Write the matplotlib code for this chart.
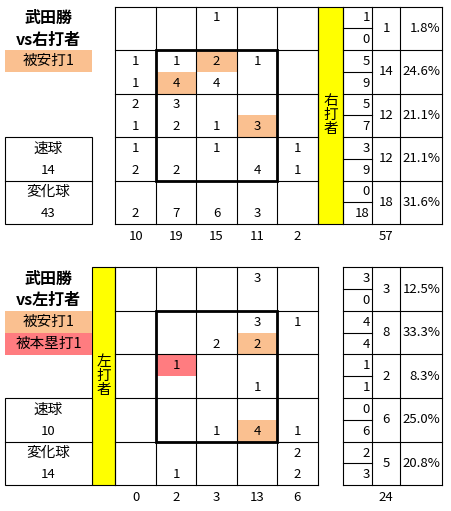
import matplotlib
matplotlib.use("Agg")
import matplotlib.pyplot as plt
from matplotlib.patches import Rectangle

plt.rcParams['font.family'] = ['Noto Sans CJK JP', 'DejaVu Sans']

# ---------------- data ----------------
pitcher = "武田勝"
titles = ["vs右打者", "vs左打者"]
side_labels = ["右打者", "左打者"]

# top / bottom counts in each of the 5x5 zone cells (None = empty)
R_top = [[None, None, 1, None, None],
         [1, 1, 2, 1, None],
         [2, 3, None, None, None],
         [1, None, 1, None, 1],
         [None, None, None, None, None]]
R_bot = [[None, None, None, None, None],
         [1, 4, 4, None, None],
         [1, 2, 1, 3, None],
         [2, 2, None, 4, 1],
         [2, 7, 6, 3, None]]
L_top = [[None, None, None, 3, None],
         [None, None, None, 3, 1],
         [None, 1, None, None, None],
         [None, None, None, None, None],
         [None, None, None, None, 2]]
L_bot = [[None, None, None, None, None],
         [None, None, 2, 2, None],
         [None, None, None, 1, None],
         [None, None, 1, 4, 1],
         [None, 1, None, None, 2]]

# hits: (row, col, half 0=top 1=bottom, kind)
R_hits = [(1, 2, 0, "hit"), (1, 1, 1, "hit"), (2, 3, 1, "hit")]
L_hits = [(1, 3, 1, "hit"), (2, 1, 0, "hr"), (3, 3, 1, "hit")]

R_col_tot = [10, 19, 15, 11, 2]
L_col_tot = [0, 2, 3, 13, 6]

R_row_a = [1, 5, 5, 3, 0]
R_row_b = [0, 9, 7, 9, 18]
R_row_tot = [1, 14, 12, 12, 18]
R_row_pct = ["1.8%", "24.6%", "21.1%", "21.1%", "31.6%"]
R_total = 57

L_row_a = [3, 4, 1, 0, 2]
L_row_b = [0, 4, 1, 6, 3]
L_row_tot = [3, 8, 2, 6, 5]
L_row_pct = ["12.5%", "33.3%", "8.3%", "25.0%", "20.8%"]
L_total = 24

R_badges = [("被安打1", "hit")]
L_badges = [("被安打1", "hit"), ("被本塁打1", "hr")]

pitch_labels = ["速球", "変化球"]
R_pitch = [14, 43]
L_pitch = [10, 14]

# ---------------- style ----------------
COL = {"hit": "#FAC090", "hr": "#FF7C80"}
YELLOW = "#FFFF00"
FS = 9.5

W, H = 451, 511
fig = plt.figure(figsize=(W / 100, H / 100), dpi=100)
ax = fig.add_axes([0, 0, 1, 1])
ax.set_xlim(0, W)
ax.set_ylim(H, 0)
ax.axis("off")

GX0, CW = 115.4, 40.45
TX = [343.3, 371.7, 400.3, 441.7]


def line(x0, y0, x1, y1, lw=0.8):
    ax.plot([x0, x1], [y0, y1], color="black", lw=lw, solid_capstyle="projecting")


def panel(y0, rh, top, bot, hits, coltot, ra, rb, rt, rp, total, side, title,
          badges, pitch, yellow_x):
    gx1 = GX0 + 5 * CW
    gy1 = y0 + 5 * rh
    # highlights
    for r, c, h, kind in hits:
        ax.add_patch(Rectangle((GX0 + c * CW, y0 + r * rh + h * rh / 2), CW, rh / 2,
                               facecolor=COL[kind], edgecolor="none", zorder=1))
    # yellow band
    ax.add_patch(Rectangle((yellow_x[0], y0), yellow_x[1] - yellow_x[0], 5 * rh,
                           facecolor=YELLOW, edgecolor="black", lw=0.8, zorder=1))
    ax.text((yellow_x[0] + yellow_x[1]) / 2, y0 + 2.5 * rh, "\n".join(side),
            ha="center", va="center", fontsize=FS + 1, linespacing=1.0, zorder=3)
    # grid
    for i in range(6):
        line(GX0 + i * CW, y0, GX0 + i * CW, gy1)
        line(GX0, y0 + i * rh, gx1, y0 + i * rh)
    # strike zone
    ax.add_patch(Rectangle((GX0 + CW, y0 + rh), 3 * CW, 3 * rh, facecolor="none",
                           edgecolor="black", lw=2.0, zorder=4))
    # numbers
    for r in range(5):
        for c in range(5):
            cx = GX0 + (c + 0.5) * CW
            if top[r][c] is not None:
                ax.text(cx, y0 + r * rh + rh * 0.26, str(top[r][c]), ha="center",
                        va="center", fontsize=FS, zorder=3)
            if bot[r][c] is not None:
                ax.text(cx, y0 + r * rh + rh * 0.76, str(bot[r][c]), ha="center",
                        va="center", fontsize=FS, zorder=3)
    for c, v in enumerate(coltot):
        ax.text(GX0 + (c + 0.5) * CW, gy1 + 12.5, str(v), ha="center", va="center",
                fontsize=FS)
    # right table
    for x in TX:
        line(x, y0, x, gy1)
    for r in range(6):
        line(TX[0], y0 + r * rh, TX[3], y0 + r * rh)
    for r in range(5):
        ym = y0 + (r + 0.5) * rh
        line(TX[0], ym, TX[1], ym)
        ax.text(TX[1] - 2, y0 + r * rh + rh * 0.26, str(ra[r]), ha="right",
                va="center", fontsize=FS)
        ax.text(TX[1] - 2, y0 + r * rh + rh * 0.76, str(rb[r]), ha="right",
                va="center", fontsize=FS)
        ax.text((TX[1] + TX[2]) / 2, ym, str(rt[r]), ha="center", va="center",
                fontsize=FS)
        ax.text(TX[3] - 1.5, ym, rp[r], ha="right", va="center", fontsize=FS)
    ax.text((TX[1] + TX[2]) / 2, gy1 + 12.5, str(total), ha="center", va="center",
            fontsize=FS)
    # left block
    lx0, lx1 = 5, min(92, yellow_x[0]) if yellow_x[0] < GX0 else 92
    lcx = 48.5
    ax.text(lcx, y0 + 11.5, pitcher, ha="center", va="center", fontsize=11.5,
            fontweight="bold")
    ax.text(lcx, y0 + 33, title, ha="center", va="center", fontsize=11.5,
            fontweight="bold")
    for i, (lab, kind) in enumerate(badges):
        by = y0 + rh + i * rh / 2
        ax.add_patch(Rectangle((lx0, by), lx1 - lx0, rh / 2, facecolor=COL[kind],
                               edgecolor="none"))
        ax.text(lcx, by + rh / 4, lab, ha="center", va="center", fontsize=FS + 1)
    by0 = y0 + 3 * rh
    ax.add_patch(Rectangle((lx0, by0), lx1 - lx0, 2 * rh, facecolor="white",
                           edgecolor="black", lw=0.8))
    line(lx0, by0 + rh, lx1, by0 + rh)
    for i, (lab, v) in enumerate(zip(pitch_labels, pitch)):
        ax.text(lcx, by0 + i * rh + rh * 0.26, lab, ha="center", va="center",
                fontsize=FS + 1)
        ax.text(lcx, by0 + i * rh + rh * 0.76, str(v), ha="center", va="center",
                fontsize=FS)


panel(6.7, 43.46, R_top, R_bot, R_hits, R_col_tot, R_row_a, R_row_b, R_row_tot,
      R_row_pct, R_total, side_labels[0], titles[0], R_badges, R_pitch,
      (GX0 + 5 * CW, 343.3))
panel(267.3, 43.6, L_top, L_bot, L_hits, L_col_tot, L_row_a, L_row_b, L_row_tot,
      L_row_pct, L_total, side_labels[1], titles[1], L_badges, L_pitch,
      (91.7, GX0))

fig.savefig("out.png", dpi=100, facecolor="white")
